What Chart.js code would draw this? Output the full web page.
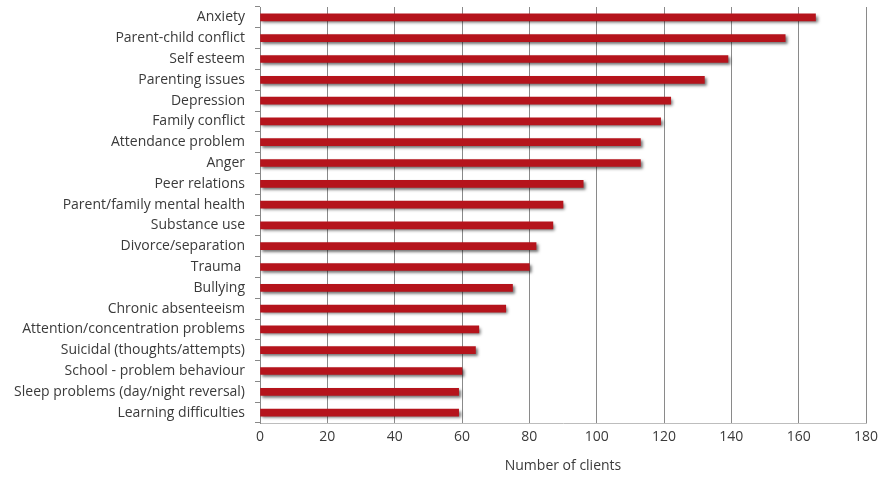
<!DOCTYPE html>
<html>
<head>
<meta charset="utf-8">
<script src="https://cdn.jsdelivr.net/npm/chart.js@4"></script>
<style>
  html, body { margin: 0; padding: 0; background: #fff; }
  #wrap { width: 880px; height: 478px; }
</style>
</head>
<body>
<div id="wrap"><canvas id="issues"></canvas></div>
<script>
// presenting issues, ordered top to bottom
const issues = [
  'Anxiety', 'Parent-child conflict', 'Self esteem', 'Parenting issues',
  'Depression', 'Family conflict', 'Attendance problem', 'Anger',
  'Peer relations', 'Parent/family mental health', 'Substance use',
  'Divorce/separation', 'Trauma ', 'Bullying', 'Chronic absenteeism',
  'Attention/concentration problems', 'Suicidal (thoughts/attempts)',
  'School - problem behaviour', 'Sleep problems (day/night reversal)',
  'Learning difficulties'
];
const clients = [165, 156, 139, 132, 122, 119, 113, 113, 96, 90, 87, 82, 80, 75, 73, 65, 64, 60, 59, 59];
const xTicks = [0, 20, 40, 60, 80, 100, 120, 140, 160, 180];

// soft drop shadow under the bars
const barShadow = {
  id: 'barShadow',
  beforeDatasetsDraw(chart) {
    const c = chart.ctx;
    c.save();
    c.shadowColor = 'rgba(0,0,0,0.55)';
    c.shadowBlur = 3;
    c.shadowOffsetX = 2;
    c.shadowOffsetY = 2;
  },
  afterDatasetsDraw(chart) {
    chart.ctx.restore();
  }
};

const labelFont = { family: 'Open Sans', size: 14 };

const ctx = document.getElementById('issues').getContext('2d');
new Chart(ctx, {
  type: 'bar',
  data: {
    labels: issues,
    datasets: [{
      label: 'Number of clients',
      data: clients,
      backgroundColor: '#b5141c',
      borderWidth: 0,
      barThickness: 7
    }]
  },
  plugins: [barShadow],
  options: {
    indexAxis: 'y',
    responsive: true,
    maintainAspectRatio: false,
    animation: false,
    layout: { padding: { top: 7, right: 14, bottom: 4, left: 0 } },
    plugins: {
      legend: { display: false },
      tooltip: { enabled: false }
    },
    scales: {
      x: {
        min: 0,
        max: 180,
        afterBuildTicks: axis => { axis.ticks = xTicks.map(v => ({ value: v })); },
        afterFit: axis => {
          axis.height = 51;
          axis.paddingLeft = 0;
          axis.paddingRight = 0;
        },
        grid: { color: '#8a8a8a', lineWidth: 1, drawTicks: false },
        border: { color: '#bdbdbd', width: 1 },
        ticks: { color: '#3a3a3a', padding: 6, font: labelFont },
        title: {
          display: true,
          text: 'Number of clients',
          color: '#3a3a3a',
          padding: { top: 3, bottom: 0 },
          font: labelFont
        }
      },
      y: {
        afterFit: axis => {
          axis.width = 260;
          axis.paddingTop = 0;
          axis.paddingBottom = 0;
        },
        grid: { drawOnChartArea: false, drawTicks: true, tickLength: 5, color: '#888', offset: true },
        border: { color: '#888', width: 1 },
        ticks: { color: '#3a3a3a', padding: 10, autoSkip: false, font: labelFont }
      }
    }
  }
});
</script>
</body>
</html>
